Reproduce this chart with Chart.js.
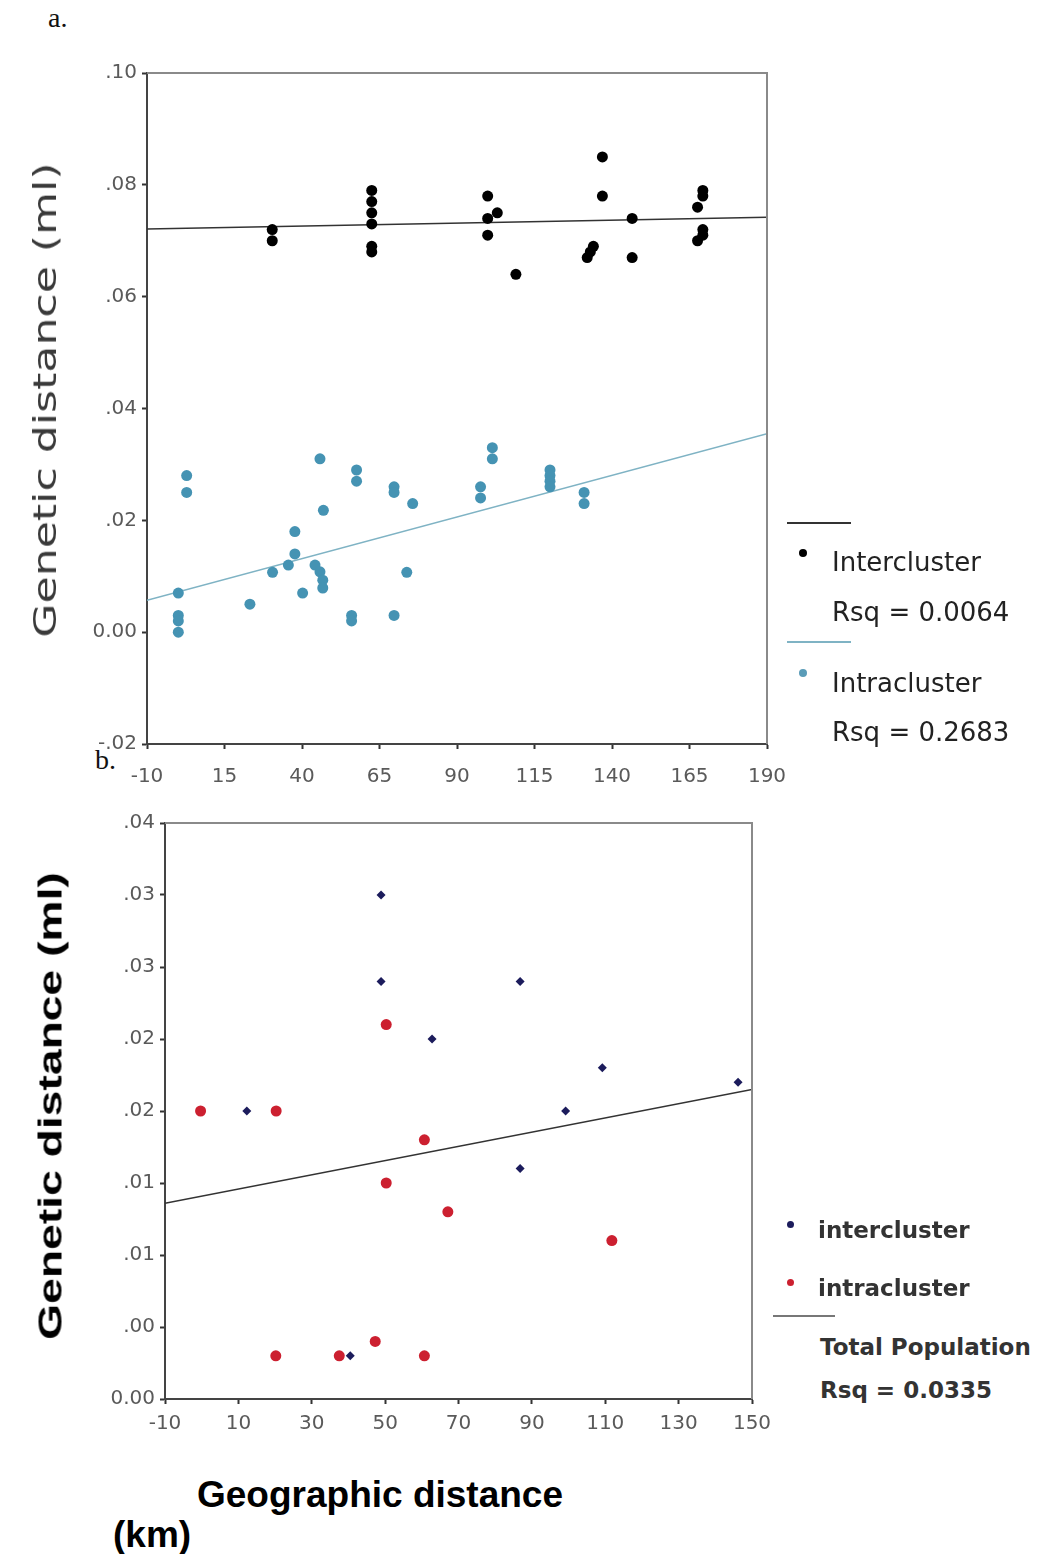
<!DOCTYPE html>
<html>
<head>
<meta charset="utf-8">
<script src="https://cdn.jsdelivr.net/npm/chart.js@4.4.1/dist/chart.umd.min.js"></script>
<style>
  body { margin: 0; background: #fff; width: 1041px; height: 1554px; position: relative; overflow: hidden; }
  .abs { position: absolute; white-space: nowrap; }
  .serif { font-family: "Liberation Serif", "DejaVu Serif", serif; font-size: 28px; color: #111; }
  .leg1 { font-family: "DejaVu Sans", sans-serif; font-size: 26px; color: #222; transform: translateY(-50%); }
  .leg2 { font-family: "DejaVu Sans", sans-serif; font-weight: bold; font-size: 23px; color: #333; transform: translateY(-50%); }
  .dot { position: absolute; border-radius: 50%; }
  .hline { position: absolute; height: 2px; }
  .arialb { font-family: "Liberation Sans", Arial, sans-serif; font-weight: bold; color: #000; }
</style>
</head>
<body>

<div class="abs serif" style="left:48px; top:2px;">a.</div>
<div class="abs serif" style="left:95px; top:744px;">b.</div>

<canvas id="topChart" class="abs" style="left:0; top:0;" width="800" height="800"></canvas>
<canvas id="bottomChart" class="abs" style="left:0; top:800px;" width="800" height="650"></canvas>

<!-- y titles -->
<div class="abs" style="left:45px; top:400px; transform: translate(-50%,-50%) rotate(-90deg) scaleX(1.38); font-family:'DejaVu Sans',sans-serif; font-size:32px; color:#3a3a3a;">Genetic distance (ml)</div>
<div class="abs arialb" style="left:50px; top:1106px; transform: translate(-50%,-50%) rotate(-90deg) scaleX(1.36); font-size:34px;">Genetic distance (ml)</div>

<!-- x title bottom -->
<div class="abs arialb" style="left:197px; top:1495px; transform: translateY(-50%); font-size:37px;">Geographic distance</div>
<div class="abs arialb" style="left:113px; top:1535px; transform: translateY(-50%); font-size:37px;">(km)</div>

<!-- legend top -->
<div class="hline" style="left:787px; top:522px; width:64px; background:#333;"></div>
<div class="dot" style="left:799px; top:549px; width:8px; height:8px; background:#000;"></div>
<div class="abs leg1" style="left:832px; top:562px;">Intercluster</div>
<div class="abs leg1" style="left:832px; top:612px;">Rsq = 0.0064</div>
<div class="hline" style="left:787px; top:641px; width:64px; background:#7fb3c4;"></div>
<div class="dot" style="left:799px; top:669px; width:8px; height:8px; background:#5a9cb8;"></div>
<div class="abs leg1" style="left:832px; top:683px;">Intracluster</div>
<div class="abs leg1" style="left:832px; top:732px;">Rsq = 0.2683</div>

<!-- legend bottom -->
<div class="dot" style="left:787px; top:1221px; width:7px; height:7px; background:#1c1c5c;"></div>
<div class="abs leg2" style="left:818px; top:1230px;">intercluster</div>
<div class="dot" style="left:787px; top:1279px; width:7px; height:7px; background:#cc2030;"></div>
<div class="abs leg2" style="left:818px; top:1288px;">intracluster</div>
<div class="hline" style="left:773px; top:1315px; width:62px; background:#777;"></div>
<div class="abs leg2" style="left:820px; top:1347px;">Total Population</div>
<div class="abs leg2" style="left:820px; top:1390px;">Rsq = 0.0335</div>

<script>
// ---- data: chart a ----
const interX = [30.4, 30.4, 62.5, 62.5, 62.5, 62.5, 62.5, 62.5, 99.9, 99.9, 99.9, 103, 109, 136.9, 136.9, 132, 133, 134, 146.5, 146.5, 169.3, 169.3, 167.6, 169.3, 169.3, 167.6];
const interY = [0.072, 0.070, 0.079, 0.077, 0.075, 0.073, 0.069, 0.068, 0.078, 0.074, 0.071, 0.075, 0.064, 0.085, 0.078, 0.067, 0.068, 0.069, 0.074, 0.067, 0.079, 0.078, 0.076, 0.072, 0.071, 0.070];

const intraX = [0.1, 0.1, 0.1, 0.1, 2.8, 2.8, 23.2, 30.5, 35.6, 37.7, 37.7, 40.2, 45.8, 44.2, 45.8, 46.7, 46.7, 46.9, 56, 56, 57.6, 57.6, 69.7, 69.7, 69.7, 73.8, 75.7, 97.6, 97.6, 101.4, 101.4, 120, 120, 120, 120, 131, 131];
const intraY = [0.007, 0.003, 0.002, 0.000, 0.028, 0.025, 0.005, 0.0107, 0.012, 0.018, 0.014, 0.007, 0.031, 0.012, 0.0108, 0.0093, 0.0079, 0.0218, 0.003, 0.002, 0.029, 0.027, 0.026, 0.025, 0.003, 0.0107, 0.023, 0.026, 0.024, 0.033, 0.031, 0.029, 0.028, 0.027, 0.026, 0.025, 0.023];

const fitX = [-10, 190];
const interFitY = [0.0721, 0.0742];
const intraFitY = [0.0057, 0.0355];

const topYLabels = ['-.02', '0.00', '.02', '.04', '.06', '.08', '.10'];

// ---- data: chart b ----
const bInterX = [48.9, 48.9, 62.8, 12.3, 86.8, 109.2, 99.2, 146.2, 86.8, 40.5];
const bInterY = [0.035, 0.029, 0.025, 0.020, 0.029, 0.023, 0.020, 0.022, 0.016, 0.003];

const bIntraX = [50.3, -0.3, 20.3, 60.7, 50.3, 67.1, 111.8, 20.2, 37.5, 47.3, 60.7];
const bIntraY = [0.026, 0.020, 0.020, 0.018, 0.015, 0.013, 0.011, 0.003, 0.003, 0.004, 0.003];

const totalFitX = [-10, 150];
const totalFitY = [0.0136, 0.0215];

const bottomYLabels = ['0.00', '.00', '.01', '.01', '.02', '.02', '.03', '.03', '.04'];

function toPoints(xs, ys) {
  return xs.map((x, i) => ({ x: x, y: ys[i] }));
}

// draws the gray frame round the plot
const framePlugin = {
  id: 'frame',
  afterDraw(chart) {
    const a = chart.chartArea;
    const c = chart.ctx;
    c.save();
    c.strokeStyle = '#8a8a8a';
    c.lineWidth = 2;
    c.beginPath();
    c.moveTo(a.left, a.top);
    c.lineTo(a.right, a.top);
    c.lineTo(a.right, a.bottom);
    c.stroke();
    c.restore();
  }
};

const tickFont = { family: 'DejaVu Sans', size: 20 };

function axis(min, max, step, width, height, labels, pad) {
  return {
    type: 'linear',
    min: min,
    max: max,
    afterFit(scale) {
      // fixed sizes so the plot area lands where the original has it
      if (width) scale.width = width;
      if (height) scale.height = height;
      scale.paddingLeft = 0;
      scale.paddingRight = 0;
      scale.paddingTop = 0;
      scale.paddingBottom = 0;
    },
    ticks: {
      stepSize: step,
      color: '#5a5a5a',
      font: tickFont,
      padding: pad,
      autoSkip: false,
      maxRotation: 0,
      callback: function(value, index) {
        return labels ? labels[index] : value;
      }
    },
    grid: { drawOnChartArea: false, drawTicks: true, tickLength: 5, tickColor: '#333', tickWidth: 2 },
    border: { display: true, color: '#444', width: 2 }
  };
}

// chart a
new Chart(document.getElementById('topChart').getContext('2d'), {
  type: 'scatter',
  data: {
    datasets: [
      { data: toPoints(interX, interY), backgroundColor: '#000', borderColor: '#000', pointRadius: 5.5, borderWidth: 0 },
      { data: toPoints(intraX, intraY), backgroundColor: '#4593b3', borderColor: '#4593b3', pointRadius: 5.5, borderWidth: 0 },
      { data: toPoints(fitX, interFitY), showLine: true, borderColor: '#333', borderWidth: 1.5, pointRadius: 0 },
      { data: toPoints(fitX, intraFitY), showLine: true, borderColor: '#7fb3c4', borderWidth: 1.5, pointRadius: 0 }
    ]
  },
  options: {
    responsive: false,
    animation: false,
    layout: { padding: { top: 73, right: 33, bottom: 11, left: 0 } },
    plugins: { legend: { display: false }, tooltip: { enabled: false } },
    scales: {
      x: axis(-10, 190, 25, null, 45, null, 16),
      y: axis(-0.02, 0.10, 0.02, 147, null, topYLabels, 5)
    }
  },
  plugins: [framePlugin]
});

// chart b
new Chart(document.getElementById('bottomChart').getContext('2d'), {
  type: 'scatter',
  data: {
    datasets: [
      { data: toPoints(bInterX, bInterY), backgroundColor: '#1c1c5c', borderColor: '#1c1c5c', pointStyle: 'rectRot', pointRadius: 4.5, borderWidth: 0 },
      { data: toPoints(bIntraX, bIntraY), backgroundColor: '#cc2030', borderColor: '#cc2030', pointRadius: 5.5, borderWidth: 0 },
      { data: toPoints(totalFitX, totalFitY), showLine: true, borderColor: '#333', borderWidth: 1.5, pointRadius: 0 }
    ]
  },
  options: {
    responsive: false,
    animation: false,
    layout: { padding: { top: 23, right: 48, bottom: 11, left: 0 } },
    plugins: { legend: { display: false }, tooltip: { enabled: false } },
    scales: {
      x: axis(-10, 150, 20, null, 40, null, 8),
      y: axis(0, 0.04, 0.005, 165, null, bottomYLabels, 5)
    }
  },
  plugins: [framePlugin]
});
</script>
</body>
</html>
